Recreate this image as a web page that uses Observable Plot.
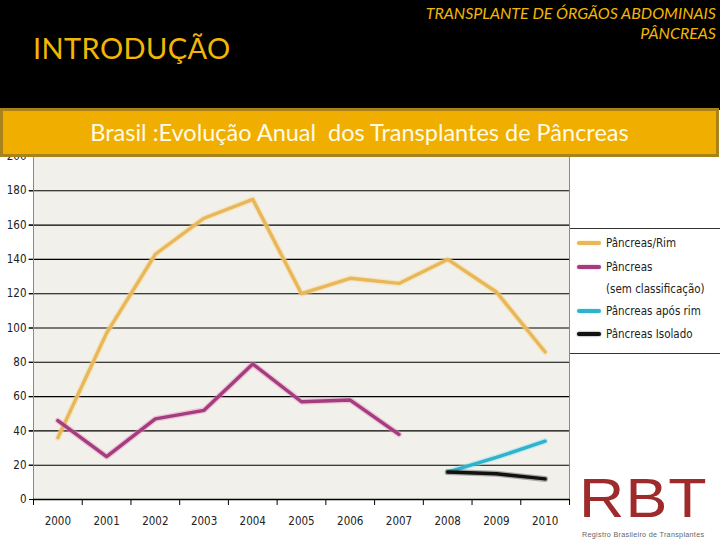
<!DOCTYPE html>
<html>
<head>
<meta charset="utf-8">
<script src="https://cdn.jsdelivr.net/npm/d3@7"></script>
<script src="https://cdn.jsdelivr.net/npm/@observablehq/plot@0.6"></script>
<style>
  html, body { margin: 0; padding: 0; background: #fff; }
  #page { position: relative; width: 720px; height: 540px; overflow: hidden; background: #fff; font-family: Lato, "Open Sans", sans-serif; }
  #header { position: absolute; left: 0; top: 0; width: 720px; height: 110px; background: #000; }
  #intro { position: absolute; left: 33px; top: 30px; font-size: 29px; color: #f2b705; letter-spacing: 0.4px; }
  #topright { position: absolute; right: 4px; top: 3px; text-align: right; font-style: italic; font-size: 16px; line-height: 20px; color: #f2b705; }
  #banner { position: absolute; left: 0; top: 108px; width: 713px; height: 43px; background: #f0ae00; border: 3px solid #a8821a; z-index: 5;
            color: #fffbe6; font-size: 23.5px; text-align: center; line-height: 43px; }
  #chart { position: absolute; left: 0; top: 140px; }
  #legend { position: absolute; left: 570px; top: 228px; width: 150px; height: 124px; background: #fff; border-top: 1px solid #333; border-bottom: 1px solid #333;
            font-family: "DejaVu Sans Condensed", "DejaVu Sans", sans-serif; font-stretch: condensed; font-size: 11.5px; color: #222; }
  .row { position: absolute; left: 7px; height: 20px; display: flex; align-items: center; }
  .sw { width: 24px; height: 4px; border-radius: 2px; margin-right: 5px; }
  .row.cont { left: 36px; }
  #rbt { position: absolute; left: 579px; top: 476px; font-family: "Liberation Sans", Arial, sans-serif; font-size: 56px; color: #9e2a2b; letter-spacing: 1px; line-height: 44px; height: 44px;
         transform: scaleX(1.12); transform-origin: left top; }
  #rbtsub { position: absolute; left: 582px; top: 530px; font-family: "Liberation Sans", Arial, sans-serif; font-size: 7.2px; line-height: 9px; color: #666; letter-spacing: 0.3px; }
</style>
</head>
<body>
<div id="page">
  <div id="header">
    <div id="intro">INTRODUÇÃO</div>
    <div id="topright">TRANSPLANTE DE ÓRGÃOS ABDOMINAIS<br>PÂNCREAS</div>
  </div>
  <div id="chart"></div>
  <div id="banner">Brasil :Evolução Anual&nbsp; dos Transplantes de Pâncreas</div>
  <div id="legend"></div>
  <div id="rbt">RBT</div>
  <div id="rbtsub">Registro Brasileiro de Transplantes</div>
</div>
<script>
// ---- data ----
const years = [2000, 2001, 2002, 2003, 2004, 2005, 2006, 2007, 2008, 2009, 2010];
const pancreasRim = [36, 97, 143, 164, 175, 120, 129, 126, 140, 121, 86];
const pancreasSemClass = [46, 25, 47, 52, 79, 57, 58, 38];
const pancreasAposRim = [16, 24.5, 34];
const pancreasIsolado = [16, 15, 12];
const laterYears = [2008, 2009, 2010];
const yTicks = [0, 20, 40, 60, 80, 100, 120, 140, 160, 180, 200];
const seriesNames = ["Pâncreas/Rim", "Pâncreas", "Pâncreas após rim", "Pâncreas Isolado"];
const seriesColors = ["#e9b75a", "#a33d7e", "#2fb3cc", "#111111"];
const glowColors = ["#f7d98f", "#e88fc4", "#8fe3f2", "#555555"];

// ---- build table ----
const rows = [];
years.forEach((y, i) => rows.push({year: y, value: pancreasRim[i], series: seriesNames[0]}));
pancreasSemClass.forEach((v, i) => rows.push({year: years[i], value: v, series: seriesNames[1]}));
laterYears.forEach((y, i) => rows.push({year: y, value: pancreasAposRim[i], series: seriesNames[2]}));
laterYears.forEach((y, i) => rows.push({year: y, value: pancreasIsolado[i], series: seriesNames[3]}));

const bounds = [years[0] - 0.5, ...years.map(y => y + 0.5)];
const gridVals = yTicks.filter(t => t > 0);
const fontAxis = "DejaVu Sans Condensed, DejaVu Sans, sans-serif";

const lineMarks = [];
seriesNames.forEach((name, k) => {
  const data = rows.filter(r => r.series === name);
  lineMarks.push(Plot.line(data, {x: "year", y: "value", stroke: glowColors[k], strokeWidth: 6, strokeOpacity: 0.45}));
  lineMarks.push(Plot.line(data, {x: "year", y: "value", stroke: seriesColors[k], strokeWidth: 3.4}));
});

const chart = Plot.plot({
  width: 720,
  height: 400,
  marginLeft: 33,
  marginRight: 151,
  marginTop: 16,
  marginBottom: 41,
  style: {fontFamily: fontAxis, fontSize: "11.5px", fontStretch: "condensed", color: "#222", background: "transparent"},
  x: {domain: [bounds[0], bounds[bounds.length - 1]]},
  y: {domain: [0, 200]},
  marks: [
    Plot.frame({fill: "#f1f0ea", stroke: null}),
    Plot.ruleY(gridVals, {stroke: "#000", strokeWidth: 1.1, x1: bounds[0] - 0.09, x2: bounds[bounds.length - 1]}),
    Plot.ruleX([bounds[0], bounds[bounds.length - 1]], {stroke: "#8a8a8a", strokeWidth: 1}),
    Plot.axisY({ticks: yTicks, tickSize: 4, tickPadding: 3, stroke: "#000", fontSize: 11.5, label: null}),
    Plot.axisX({ticks: years, tickSize: 0, tickPadding: 17, tickFormat: d => String(d), fontSize: 11.5, label: null}),
    Plot.axisX({ticks: bounds, tickSize: 6, tickFormat: () => "", stroke: "#000", label: null}),
    ...lineMarks,
    Plot.ruleY([0], {stroke: "#000", strokeWidth: 1.3})
  ]
});
document.getElementById("chart").appendChild(chart);

// ---- legend ----
const legend = document.getElementById("legend");
const legendRows = [
  {text: seriesNames[0], k: 0, top: 4},
  {text: seriesNames[1], k: 1, top: 28},
  {text: "(sem classificação)", k: -1, top: 50},
  {text: seriesNames[2], k: 2, top: 72},
  {text: seriesNames[3], k: 3, top: 95}
];
legendRows.forEach(r => {
  const d = document.createElement("div");
  d.className = "row" + (r.k < 0 ? " cont" : "");
  d.style.top = r.top + "px";
  if (r.k >= 0) {
    const s = document.createElement("div");
    s.className = "sw";
    s.style.background = seriesColors[r.k];
    s.style.boxShadow = "0 0 2px " + glowColors[r.k];
    d.appendChild(s);
  }
  const t = document.createElement("span");
  t.textContent = r.text;
  d.appendChild(t);
  legend.appendChild(d);
});
</script>
</body>
</html>
